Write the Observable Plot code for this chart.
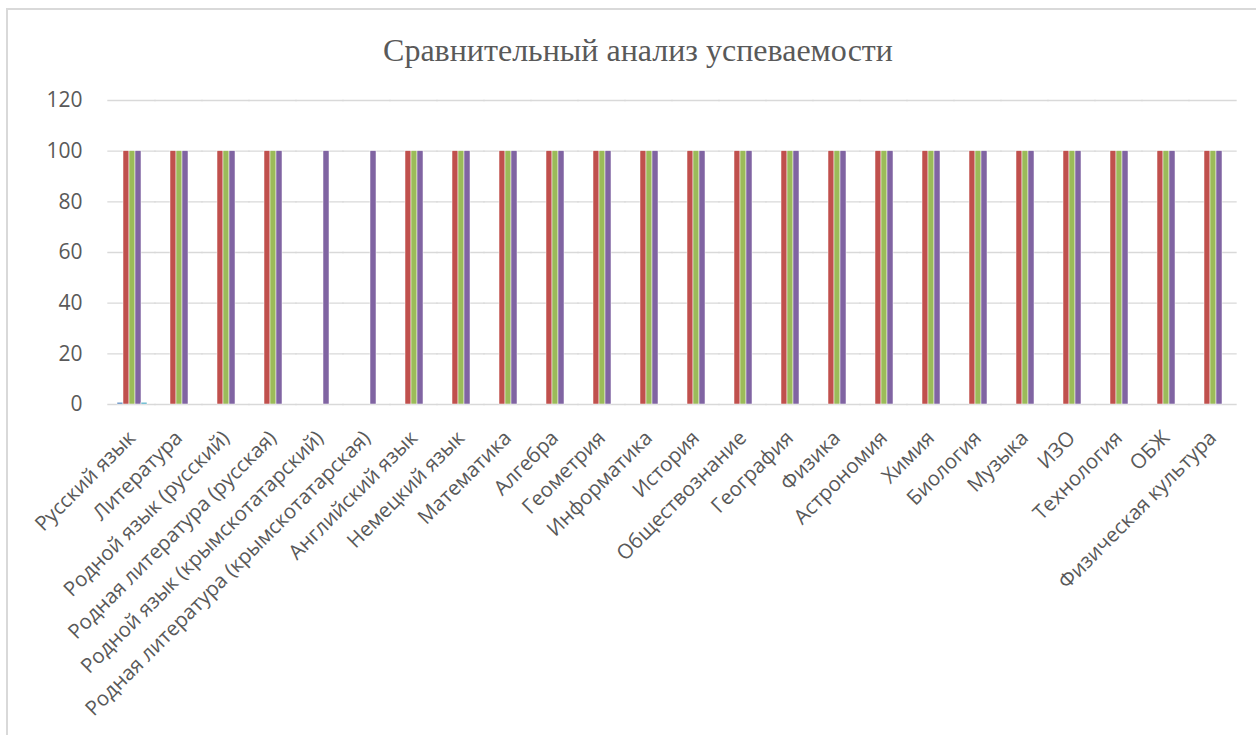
<!DOCTYPE html>
<html><head><meta charset="utf-8">
<script src="https://cdn.jsdelivr.net/npm/d3@7"></script>
<script src="https://cdn.jsdelivr.net/npm/@observablehq/plot@0.6"></script>
<style>
html,body{margin:0;padding:0;background:#fff;overflow:hidden;width:1256px;height:735px;position:relative;}
#frame{position:absolute;left:6px;top:8px;width:1320px;height:800px;border:2px solid #d9d9d9;box-sizing:border-box;}
#title{position:absolute;left:0;top:30px;width:1276px;text-align:center;font-family:"Liberation Serif","DejaVu Serif",serif;font-size:32px;line-height:40px;color:#595959;}
#chart{position:absolute;left:0;top:80px;}
</style>
</head><body>
<div id="frame"></div>
<div id="title">Сравнительный анализ успеваемости</div>
<div id="chart"></div>
<script>
const subjects = [
  "Русский язык","Литература","Родной язык (русский)","Родная литература (русская)",
  "Родной язык (крымскотатарский)","Родная литература (крымскотатарская)","Английский язык",
  "Немецкий язык","Математика","Алгебра","Геометрия","Информатика","История","Обществознание",
  "География","Физика","Астрономия","Химия","Биология","Музыка","ИЗО","Технология","ОБЖ",
  "Физическая культура"
];
const seriesNames = ["Ряд1","Ряд2","Ряд3","Ряд4","Ряд5"];
const series1 = [0.7,null,null,null,null,null,null,null,null,null,null,null,null,null,null,null,null,null,null,null,null,null,null,null];
const series2 = [100,100,100,100,null,null,100,100,100,100,100,100,100,100,100,100,100,100,100,100,100,100,100,100];
const series3 = [100,100,100,100,null,null,100,100,100,100,100,100,100,100,100,100,100,100,100,100,100,100,100,100];
const series4 = [100,100,100,100,100,100,100,100,100,100,100,100,100,100,100,100,100,100,100,100,100,100,100,100];
const series5 = [0.7,null,null,null,null,null,null,null,null,null,null,null,null,null,null,null,null,null,null,null,null,null,null,null];
const yTicks = [0,20,40,60,80,100,120];
const colors = ["#4F81BD","#C0504D","#9BBB59","#8064A2","#4BACC6"];

const allSeries = [series1, series2, series3, series4, series5];
const rows = subjects.flatMap((s, i) => allSeries.map((arr, j) => ({subject: s, series: seriesNames[j], value: arr[i]})))
  .filter(d => d.value != null);

const W = 1256, ML = 106, MR = 18;
const pIn = 0.305, pOut = pIn / 2;
const step = (W - ML - MR) / (subjects.length - pIn + 2 * pOut);
const halfGap = step * pIn / 2 + 0.5;

const chart = Plot.plot({
  width: W, height: 655,
  marginLeft: ML, marginRight: MR, marginTop: 20, marginBottom: 331,
  style: {fontFamily: "'Open Sans', sans-serif", fontSize: "19px", color: "#595959", background: "transparent", overflow: "visible"},
  fx: {domain: subjects, paddingInner: pIn, paddingOuter: pOut, label: null},
  x: {domain: seriesNames, padding: 0, axis: null},
  y: {domain: [0, 120], label: null},
  color: {domain: seriesNames, range: colors},
  marks: [
    Plot.ruleY(yTicks.filter(t => t > 0), {stroke: "#d9d9d9", strokeWidth: 1.3, strokeOpacity: 1, insetLeft: -halfGap, insetRight: -halfGap}),
    Plot.ruleY([0], {stroke: "#d9d9d9", strokeWidth: 1.6, strokeOpacity: 1, insetLeft: -halfGap, insetRight: -halfGap}),
    Plot.barY(rows, {fx: "subject", x: "series", y: "value", fill: "series", stroke: "white", strokeWidth: 0.5}),
    Plot.axisY({ticks: yTicks, tickSize: 0, tickPadding: 33, label: null, fill: "#595959", fontSize: 21}),
    Plot.axisFx({anchor: "bottom", tickRotate: -45, tickSize: 0, tickPadding: 30, label: null, fill: "#595959", fontSize: 20.5})
  ]
});
document.getElementById("chart").appendChild(chart);
</script>
</body></html>
